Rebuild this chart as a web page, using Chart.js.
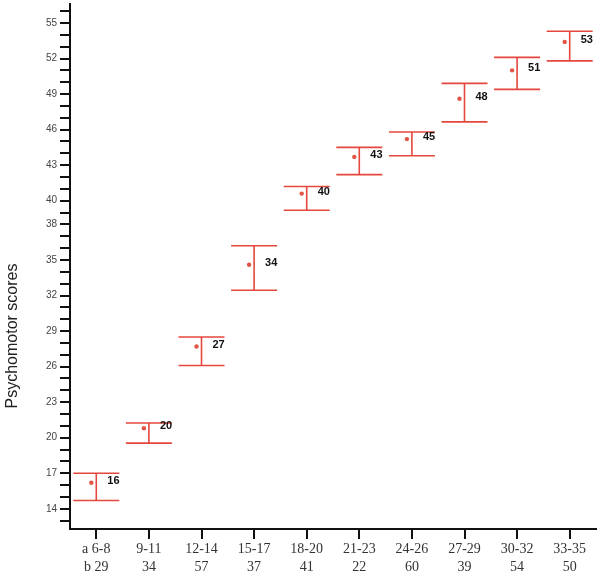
<!DOCTYPE html>
<html>
<head>
<meta charset="utf-8">
<script src="https://cdn.jsdelivr.net/npm/chart.js@4.4.1/dist/chart.umd.min.js"></script>
<style>
html, body { margin: 0; padding: 0; background: #fff; }
</style>
</head>
<body>
<canvas id="ch" width="600" height="575"></canvas>
<script>
// age groups (years) and group sizes
var ages = ['6-8', '9-11', '12-14', '15-17', '18-20', '21-23', '24-26', '27-29', '30-32', '33-35'];
var sampleSizes = [29, 34, 57, 37, 41, 22, 60, 39, 54, 50];

// mean and interval per group
var means = [16.2, 20.8, 27.7, 34.6, 40.6, 43.7, 45.2, 48.6, 51.0, 53.4];
var upper = [17.0, 21.25, 28.5, 36.2, 41.2, 44.5, 45.8, 49.9, 52.1, 54.3];
var lower = [14.7, 19.55, 26.1, 32.45, 39.2, 42.2, 43.8, 46.65, 49.4, 51.8];
var meanLabels = ['16', '20', '27', '34', '40', '43', '45', '48', '51', '53'];

// labelled ticks on the y axis (unlabelled ticks every 1)
var yTickLabels = [14, 17, 20, 23, 26, 29, 32, 35, 38, 40, 43, 46, 49, 52, 55];

var xLabels = ages.map(function (a, i) {
    if (i === 0) return ['a ' + a, 'b ' + sampleSizes[i]];
    return [a, String(sampleSizes[i])];
});

var errorBars = {
    id: 'errorBars',
    afterDatasetsUpdate: function (chart) {
        // mean dot sits a little left of the bar
        chart.getDatasetMeta(0).data.forEach(function (pt) { pt.x -= 5; });
    },
    afterDatasetsDraw: function (chart) {
        var ctx = chart.ctx;
        var xs = chart.scales.x, ys = chart.scales.y;
        ctx.save();
        ctx.strokeStyle = '#e5473c';
        ctx.lineWidth = 1.6;
        for (var i = 0; i < means.length; i++) {
            var x = xs.getPixelForValue(i);
            var yt = ys.getPixelForValue(upper[i]);
            var yb = ys.getPixelForValue(lower[i]);
            ctx.beginPath();
            ctx.moveTo(x, yt); ctx.lineTo(x, yb);
            ctx.moveTo(x - 23, yt); ctx.lineTo(x + 23, yt);
            ctx.moveTo(x - 23, yb); ctx.lineTo(x + 23, yb);
            ctx.stroke();
            ctx.fillStyle = '#111';
            ctx.font = 'bold 11px "Liberation Sans", Arial, sans-serif';
            ctx.textAlign = 'left';
            ctx.textBaseline = 'middle';
            ctx.fillText(meanLabels[i], x + 11, ys.getPixelForValue(means[i]) - 2);
        }
        // y axis title
        ctx.translate(13, chart.chartArea.bottom - 193);
        ctx.rotate(-Math.PI / 2);
        ctx.fillStyle = '#222';
        ctx.font = '16px "Liberation Sans", Arial, sans-serif';
        ctx.textAlign = 'center';
        ctx.fillText('Psychomotor scores', 0, 0);
        ctx.restore();
    }
};

var ctx = document.getElementById('ch').getContext('2d');
var myChart = new Chart(ctx, {
    type: 'line',
    data: {
        labels: xLabels,
        datasets: [{
            label: 'Mean',
            data: means,
            showLine: false,
            pointRadius: 2.2,
            pointBackgroundColor: '#e05545',
            pointBorderWidth: 0
        }]
    },
    options: {
        responsive: false,
        animation: false,
        layout: { padding: { top: 4, right: 3, left: 0, bottom: 0 } },
        plugins: {
            legend: { display: false },
            tooltip: { enabled: false }
        },
        scales: {
            x: {
                offset: true,
                grid: { offset: false, drawOnChartArea: false, tickLength: 10, color: '#111', lineWidth: 2 },
                border: { color: '#111', width: 2 },
                ticks: {
                    padding: 1,
                    color: '#333',
                    maxRotation: 0,
                    autoSkip: false,
                    font: { family: '"Liberation Serif", "Times New Roman", serif', size: 14, lineHeight: 1.3 }
                },
                afterFit: function (s) { s.height = 46; s.paddingLeft = 0; s.paddingRight = 0; }
            },
            y: {
                min: 12.3,
                max: 56.6,
                grid: { drawOnChartArea: false, tickLength: 10, color: '#111', lineWidth: 2 },
                border: { color: '#111', width: 2 },
                afterBuildTicks: function (s) {
                    var t = [];
                    for (var v = 13; v <= 56; v++) t.push({ value: v });
                    s.ticks = t;
                },
                ticks: {
                    autoSkip: false,
                    padding: 3,
                    color: '#444',
                    font: { family: '"Liberation Sans", Arial, sans-serif', size: 10 },
                    callback: function (value) {
                        return yTickLabels.indexOf(value) >= 0 ? String(value) : '';
                    }
                },
                afterFit: function (s) { s.width = 70; s.paddingTop = 0; s.paddingBottom = 0; }
            }
        }
    },
    plugins: [errorBars]
});
</script>
</body>
</html>
